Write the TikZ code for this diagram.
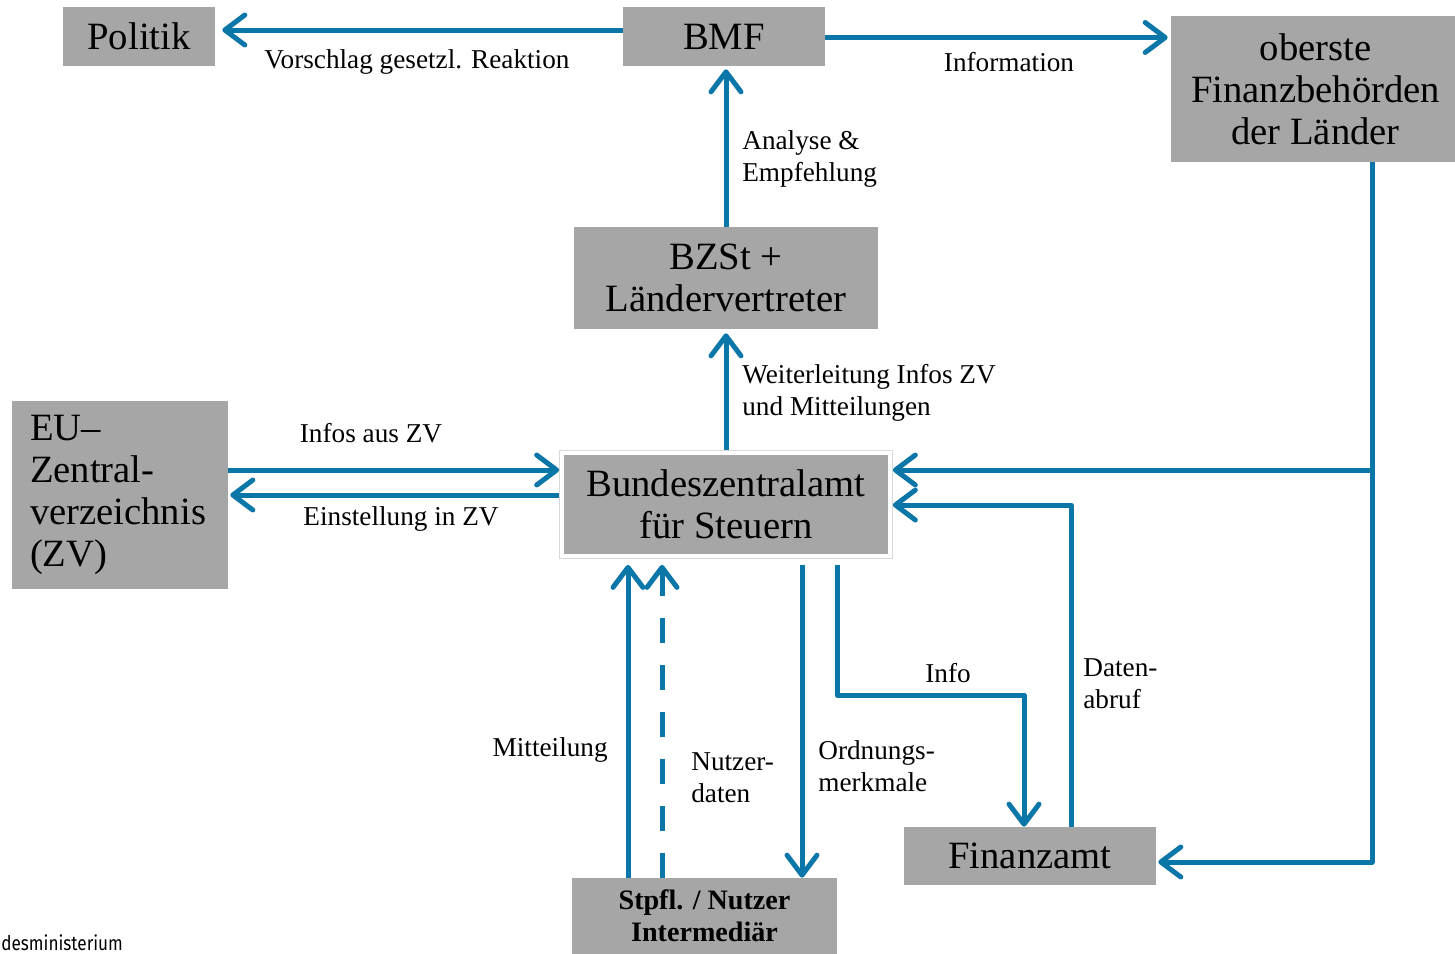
\documentclass[tikz,border=0pt]{standalone}
\usepackage{fontspec}
\setmainfont{Liberation Serif}
\newfontfamily\srcfont{Fira Sans}
\usetikzlibrary{arrows.meta,fit,backgrounds,calc}
\definecolor{arrblue}{HTML}{0A77A8}
\definecolor{boxgray}{HTML}{A6A6A6}
\begin{document}
\begin{tikzpicture}[x=0.02cm,y=-0.02cm,
  box/.style={fill=boxgray, inner sep=0pt, align=center, font=\fontsize{22}{23.8}\selectfont},
  lbl/.style={inner sep=0pt, font=\fontsize{15.5}{18.1}\selectfont},
  arr/.style={draw=arrblue, line width=0.1cm, line join=round, -{Straight Barb[length=0.4cm,width=0.6cm,line cap=round,line join=round]}},
  dasharr/.style={arr, dash pattern=on 0.5cm off 0.44cm},
]
\useasboundingbox (0,0) rectangle (1455,954);

% boxes
\node[box, minimum width=3.04cm, minimum height=1.18cm] (politik) at (139,36.5) {Politik};
\node[box, minimum width=4.04cm, minimum height=1.18cm] (bmf) at (724,36.5) {BMF};
\node[box, minimum width=5.68cm, minimum height=2.92cm] (olb) at (1313,89) {\hspace*{0.1cm}oberste\\\hspace*{0.1cm}Finanzbehörden\\\hspace*{0.1cm}der Länder};
\node[box, minimum width=6.08cm, minimum height=2.04cm] (bzst) at (726,278) {BZSt +\\Ländervertreter};
\node[box, text width=3.6cm, inner xsep=0.36cm, align=left, minimum height=3.76cm] (eu) at (120,495) {EU–\\Zentral-\\verzeichnis\\(ZV)};
\node[box, minimum width=6.48cm, minimum height=1.98cm] (bz) at (726,504.5) {Bundeszentralamt\\für Steuern};
\node[box, minimum width=5.3cm, minimum height=1.52cm, font=\bfseries\fontsize{16}{18}\selectfont] (stpfl) at (704.5,916) {Stpfl. / Nutzer\\Intermediär};
\node[box, minimum width=5.04cm, minimum height=1.16cm] (fa) at (1030,856) {Finanzamt};
\begin{scope}[on background layer]
\node[fit=(bz), inner sep=0.08cm, draw=black!15, line width=0.6pt, fill=white] (bzframe) {};
\end{scope}

% connectors
\coordinate (c1) at (1372,862);
\coordinate (br) at (1372,470);
\coordinate (c2) at (1071,505);
\coordinate (c3) at (837,695);
\coordinate (c4) at (1024,695);

\draw[arr, shorten >=0.14cm] (bmf.west |- 0,30) -- (politik.east |- 0,30);
\draw[arr, shorten >=0.06cm] (bmf.east |- 0,37.5) -- (olb.west |- 0,37.5);
\draw[arr, shorten >=0.06cm] (bzst.north) -- (bzst.north |- bmf.south);
\draw[arr, shorten >=0.08cm] (bzframe.north) -- (bzframe.north |- bzst.south);
\draw[arr] (eu.east |- 0,470) -- (bzframe.west |- 0,470);
\draw[arr, shorten >=0.04cm] (bzframe.west |- 0,495) -- (eu.east |- 0,495);
\draw[arr, shorten >=0.04cm] (olb.south -| c1) -- (c1) -- (fa.east |- c1);
\draw[arr] (br) -- (bzframe.east |- br);
\draw[arr] (fa.north -| c2) -- (c2) -- (bzframe.east |- c2);
\draw[arr, shorten <=0.12cm] (bzframe.south -| c3) -- (c3) -- (c4) -- (fa.north -| c4);
\draw[arr, shorten <=0.12cm] (bzframe.south -| 802,0) -- (stpfl.north -| 802,0);
\draw[arr, shorten >=0.12cm] (stpfl.north -| 628,0) -- (bzframe.south -| 628,0);
\draw[dasharr, shorten >=0.12cm] (stpfl.north -| 662,0) -- (bzframe.south -| 662,0);

% labels
\node[lbl] (l1) at (417,62) {Vorschlag gesetzl. Reaktion};
\node[lbl] (l2) at (1009,62) {Information};
\node[lbl, anchor=west, align=left] (l3) at (742,159) {Analyse \&\\Empfehlung};
\node[lbl, anchor=west, align=left] (l4) at (742,393) {Weiterleitung Infos ZV\\und Mitteilungen};
\node[lbl] (l5) at (371,433) {Infos aus ZV};
\node[lbl] (l6) at (401,519) {Einstellung in ZV};
\node[lbl] (l7) at (948,673) {Info};
\node[lbl, anchor=west, align=left] (l8) at (1083,684) {Daten-\\abruf};
\node[lbl, anchor=west, align=left] (l9) at (818,766) {Ordnungs-\\merkmale};
\node[lbl, anchor=west, align=left] (l10) at (691,778) {Nutzer-\\daten};
\node[lbl, anchor=east] (l11) at (608,750) {Mitteilung};
\node[anchor=west, inner sep=0pt, xscale=0.85, font=\srcfont\fontsize{11.5}{13}\selectfont] (src) at (1,943) {desministerium};
\end{tikzpicture}
\end{document}
